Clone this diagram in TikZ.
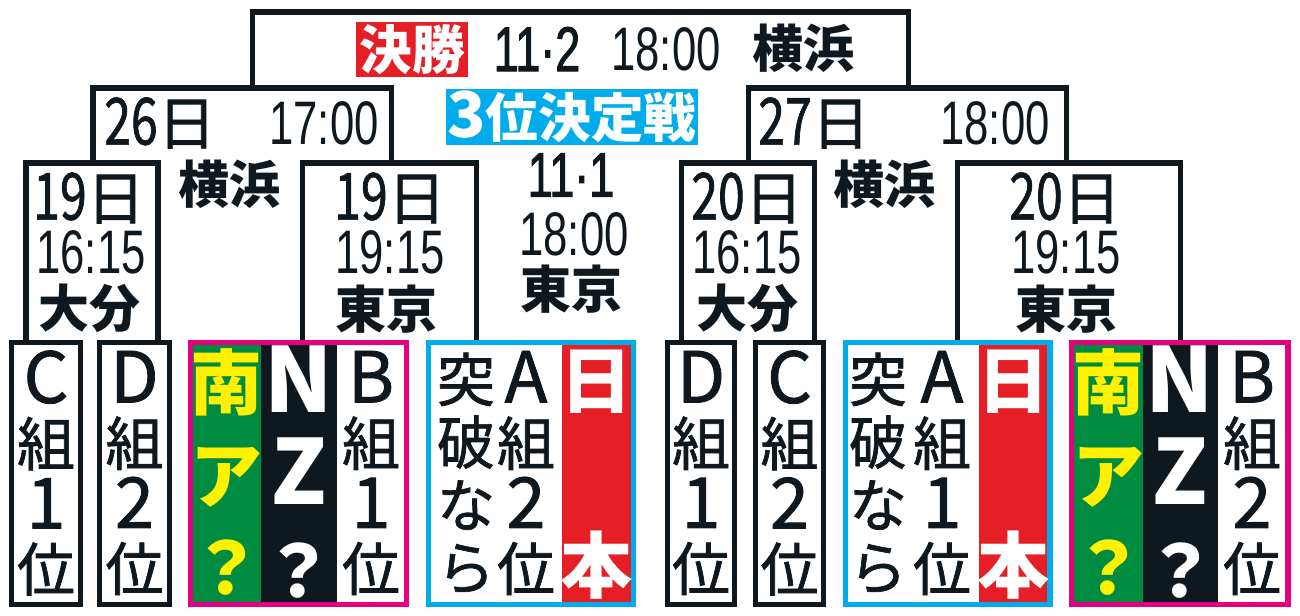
\documentclass[tikz,border=0pt]{standalone}
\usepackage{fontspec}
\usepackage{tikz}
\newfontfamily\jp{Noto Sans CJK JP}
\newfontfamily\jpm[FakeBold=1.2]{Noto Sans CJK JP}
\newfontfamily\num[FakeStretch=0.74,FakeBold=1]{Noto Sans CJK JP}
\newfontfamily\tm[FakeStretch=0.71]{Liberation Sans}
\definecolor{nk_dark}{RGB}{14, 24, 30}
\definecolor{nk_red}{RGB}{230, 30, 38}
\definecolor{nk_cyan}{RGB}{0, 172, 236}
\definecolor{nk_mag}{RGB}{228, 0, 127}
\definecolor{nk_green}{RGB}{0, 140, 64}
\definecolor{nk_yellow}{RGB}{255, 241, 0}
\newcommand{\ltr}[1]{{\fontsize{40}{35.7}\selectfont #1}}
\newcommand{\btr}[1]{{\fontsize{51}{52.4}\selectfont #1}}
\tikzstyle{ln}=[draw=nk_dark,line width=2.85pt]
\tikzstyle{kb}=[rectangle,draw=nk_dark,line width=2.85pt,minimum height=5.24cm,inner sep=0pt]
\tikzstyle{mb}=[rectangle,draw=nk_mag,line width=2.85pt,minimum height=5.24cm,minimum width=4.34cm,inner sep=0pt]
\tikzstyle{cb}=[rectangle,draw=nk_cyan,line width=2.85pt,minimum height=5.24cm,inner sep=0pt]
\tikzstyle{col}=[font=\jpm\fontsize{33}{35.7}\selectfont,align=center,inner sep=0pt,text=nk_dark]
\tikzstyle{big}=[font=\jp\bfseries\fontsize{41}{52.4}\selectfont,align=center,inner sep=0pt]
\tikzstyle{day}=[font=\jpm\fontsize{33}{36}\selectfont,inner sep=0pt,text=nk_dark]
\tikzstyle{tim}=[font=\tm\fontsize{35}{38}\selectfont,inner sep=0pt,text=nk_dark]
\tikzstyle{ven}=[font=\jp\bfseries\fontsize{29}{34}\selectfont,inner sep=0pt,text=nk_dark]
\tikzstyle{tag}=[font=\jp\bfseries\fontsize{30}{34}\selectfont,text=white,inner sep=0pt]
\tikzstyle{none}=[]
\begin{document}
\begin{tikzpicture}[x=0.02cm,y=-0.02cm]
            \useasboundingbox (0,0) rectangle (1300,615);
            \node [style=none] (0) at (252, 88) {};
            \node [style=none] (1) at (252, 12) {};
            \node [style=none] (2) at (908, 12) {};
            \node [style=none] (3) at (908, 88) {};
            \node [style=none] (4) at (93, 163) {};
            \node [style=none] (5) at (93, 88) {};
            \node [style=none] (6) at (391, 88) {};
            \node [style=none] (7) at (391, 163) {};
            \node [style=none] (8) at (748, 163) {};
            \node [style=none] (9) at (748, 88) {};
            \node [style=none] (10) at (1066, 88) {};
            \node [style=none] (11) at (1066, 163) {};
            \node [style=none] (12) at (26, 342) {};
            \node [style=none] (13) at (26, 163) {};
            \node [style=none] (14) at (158, 163) {};
            \node [style=none] (15) at (158, 342) {};
            \node [style=none] (16) at (302, 342) {};
            \node [style=none] (17) at (302, 163) {};
            \node [style=none] (18) at (476, 163) {};
            \node [style=none] (19) at (476, 342) {};
            \node [style=none] (20) at (681, 342) {};
            \node [style=none] (21) at (681, 163) {};
            \node [style=none] (22) at (814, 163) {};
            \node [style=none] (23) at (814, 342) {};
            \node [style=none] (24) at (957, 342) {};
            \node [style=none] (25) at (957, 163) {};
            \node [style=none] (26) at (1180, 163) {};
            \node [style=none] (27) at (1180, 342) {};
            \draw [style=ln] (0.center) to (1.center) to (2.center) to (3.center);
            \draw [style=ln] (4.center) to (5.center) to (6.center) to (7.center);
            \draw [style=ln] (8.center) to (9.center) to (10.center) to (11.center);
            \draw [style=ln] (12.center) to (13.center) to (14.center) to (15.center);
            \draw [style=ln] (16.center) to (17.center) to (18.center) to (19.center);
            \draw [style=ln] (20.center) to (21.center) to (22.center) to (23.center);
            \draw [style=ln] (24.center) to (25.center) to (26.center) to (27.center);
            \fill [nk_green] (190, 342.5) rectangle (261, 604.5);
            \fill [nk_dark] (261, 342.5) rectangle (337, 604.5);
            \fill [nk_red] (562, 342.5) rectangle (634, 604.5);
            \fill [nk_red] (979, 342.5) rectangle (1050, 604.5);
            \fill [nk_green] (1071, 342.5) rectangle (1143, 604.5);
            \fill [nk_dark] (1143, 342.5) rectangle (1218, 604.5);
            \node [style=kb, minimum width=1.38cm] (28) at (46, 473.5) {};
            \node [style=kb, minimum width=1.40cm] (29) at (134.5, 473.5) {};
            \node [style=mb] (30) at (298.5, 473.5) {};
            \node [style=cb, minimum width=4.12cm] (31) at (531, 473.5) {};
            \node [style=kb, minimum width=1.34cm] (32) at (701, 473.5) {};
            \node [style=kb, minimum width=1.36cm] (33) at (789.5, 473.5) {};
            \node [style=cb, minimum width=4.10cm] (34) at (947.5, 473.5) {};
            \node [style=mb] (35) at (1179.5, 473.5) {};
            \node [style=tag, fill=nk_red, minimum width=2.24cm, minimum height=1.1cm] (36) at (412, 49.5) {決勝};
            \node [style=tim, font=\tm\fontsize{36}{38}\selectfont\addfontfeature{FakeBold=1.5}] (37) at (537, 49) {11·2};
            \node [style=tim] (38) at (666, 49) {18:00};
            \node [style=ven] (39) at (803, 48) {横浜};
            \node [style=tag, fill=nk_cyan, minimum width=5.04cm, minimum height=1.12cm] (40) at (572, 117) {{\fontsize{36}{34}\selectfont 3}位決定戦};
            \node [style=day] (41) at (160, 123) {{\num\fontsize{37}{36}\selectfont 26}日};
            \node [style=tim] (42) at (324, 123) {17:00};
            \node [style=day] (43) at (814, 123) {{\num\fontsize{37}{36}\selectfont 27}日};
            \node [style=tim] (44) at (995, 123) {18:00};
            \node [style=ven] (45) at (229, 184) {横浜};
            \node [style=ven] (46) at (884, 184) {横浜};
            \node [style=day] (47) at (89, 198) {{\num\fontsize{37}{36}\selectfont 19}日};
            \node [style=tim] (48) at (91, 252) {16:15};
            \node [style=ven] (49) at (89, 308) {大分};
            \node [style=day] (50) at (390, 198) {{\num\fontsize{37}{36}\selectfont 19}日};
            \node [style=tim] (51) at (390, 252) {19:15};
            \node [style=ven] (52) at (386, 309) {東京};
            \node [style=tim, font=\tm\fontsize{36}{38}\selectfont\addfontfeature{FakeBold=1.5}] (53) at (571, 175) {11·1};
            \node [style=tim] (54) at (574, 234) {18:00};
            \node [style=ven] (55) at (571, 289) {東京};
            \node [style=day] (56) at (747, 198) {{\num\fontsize{37}{36}\selectfont 20}日};
            \node [style=tim] (57) at (747, 252) {16:15};
            \node [style=ven] (58) at (747, 308) {大分};
            \node [style=day] (59) at (1065, 198) {{\num\fontsize{37}{36}\selectfont 20}日};
            \node [style=tim] (60) at (1066, 252) {19:15};
            \node [style=ven] (61) at (1066, 309) {東京};
            \node [style=col] (62) at (46, 473) {\ltr{C}\\組\\\ltr{1}\\位};
            \node [style=col] (63) at (134.5, 473) {\ltr{D}\\組\\\ltr{2}\\位};
            \node [style=big, text=nk_yellow] (64) at (227, 472) {南\\ア\\？};
            \node [style=big, text=white] (65) at (299, 472) {\btr{N}\\\btr{Z}\\？};
            \node [style=col] (66) at (371, 473) {\ltr{B}\\組\\\ltr{1}\\位};
            \node [style=col] (67) at (466, 473) {突\\破\\な\\ら};
            \node [style=col] (68) at (526, 473) {\ltr{A}\\組\\\ltr{2}\\位};
            \node [style=big, text=white] (69) at (597, 382) {日};
            \node [style=big, text=white] (70) at (597, 565) {本};
            \node [style=col] (71) at (701, 473) {\ltr{D}\\組\\\ltr{1}\\位};
            \node [style=col] (72) at (789.5, 473) {\ltr{C}\\組\\\ltr{2}\\位};
            \node [style=col] (73) at (878, 473) {突\\破\\な\\ら};
            \node [style=col] (74) at (942, 473) {\ltr{A}\\組\\\ltr{1}\\位};
            \node [style=big, text=white] (75) at (1013, 382) {日};
            \node [style=big, text=white] (76) at (1013, 565) {本};
            \node [style=big, text=nk_yellow] (77) at (1108, 472) {南\\ア\\？};
            \node [style=big, text=white] (78) at (1180, 472) {\btr{N}\\\btr{Z}\\？};
            \node [style=col] (79) at (1252, 473) {\ltr{B}\\組\\\ltr{2}\\位};
    \end{tikzpicture}
\end{document}
